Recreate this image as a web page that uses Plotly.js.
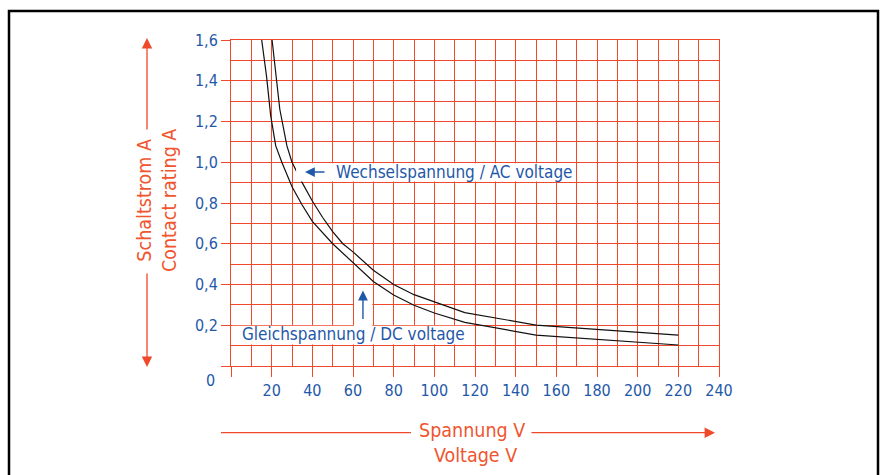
<!DOCTYPE html>
<html>
<head>
<meta charset="utf-8">
<script src="https://cdn.plot.ly/plotly-3.0.1.min.js"></script>
<style>html,body{margin:0;padding:0;background:#fff;}#chart{width:880px;height:475px;}</style>
</head>
<body>
<div id="chart"></div>
<script>
// Data
const acVoltage = [20.2, 22, 24, 27.5, 30, 35, 40, 45, 50, 55, 60, 70, 80, 90, 100, 115, 150, 220];
const acCurrent = [1.6, 1.45, 1.26, 1.08, 1.0, 0.9, 0.81, 0.73, 0.66, 0.6, 0.56, 0.47, 0.40, 0.35, 0.315, 0.262, 0.201, 0.152];
const dcVoltage = [15.1, 17.5, 19.5, 22, 25, 30, 35, 40, 50, 60, 70, 80, 90, 100, 115, 150, 220];
const dcCurrent = [1.6, 1.42, 1.23, 1.08, 1.0, 0.88, 0.79, 0.71, 0.6, 0.505, 0.415, 0.348, 0.298, 0.26, 0.214, 0.152, 0.103];
const xTickVals = [0, 20, 40, 60, 80, 100, 120, 140, 160, 180, 200, 220, 240];
const xTickText = ['', '20', '40', '60', '80', '100', '120', '140', '160', '180', '200', '220', '240'];
const yTickVals = [0, 0.2, 0.4, 0.6, 0.8, 1.0, 1.2, 1.4, 1.6];
const yTickText = ['', '0,2', '0,4', '0,6', '0,8', '1,0', '1,2', '1,4', '1,6'];
const acLabel = 'Wechselspannung / AC voltage';
const dcLabel = 'Gleichspannung / DC voltage';
const yTitle = 'Schaltstrom A<br>Contact rating A';
const xTitle1 = 'Spannung V';
const xTitle2 = 'Voltage V';

const RED = '#f0482a';
const RED_TXT = '#f0552f';
const BLUE = '#1f58a8';
const TICKFONT = {family: '"Liberation Sans Narrow", "DejaVu Sans Condensed", "Liberation Sans", sans-serif', size: 16, color: BLUE};
const LABELFONT = {family: '"DejaVu Sans Condensed", "Open Sans", sans-serif', size: 17, color: BLUE};
const TITLEFONT = {family: '"DejaVu Sans Condensed", "Open Sans", sans-serif', size: 19.5, color: RED_TXT};

// pixel helpers -> paper coords (plot area: x 231..719, y 40..366)
const L = 231, R = 719, T = 40, B = 366;
const px = v => (v - L) / (R - L);
const py = v => (B - v) / (B - T);

const traces = [
  {x: acVoltage, y: acCurrent, type: 'scatter', mode: 'lines', line: {color: '#111', width: 1.2}, hoverinfo: 'skip'},
  {x: dcVoltage, y: dcCurrent, type: 'scatter', mode: 'lines', line: {color: '#111', width: 1.2}, hoverinfo: 'skip'}
];

const layout = {
  width: 880, height: 475,
  margin: {l: L, r: 880 - R, t: T, b: 475 - B, pad: 0},
  paper_bgcolor: '#fff', plot_bgcolor: '#fff',
  showlegend: false,
  xaxis: {
    range: [0, 240], tickmode: 'array', tickvals: xTickVals, ticktext: xTickText,
    showgrid: true, gridcolor: RED, gridwidth: 1,
    ticks: 'outside', ticklen: 10, tickcolor: RED, tickwidth: 1,
    showline: true, mirror: true, linecolor: RED, linewidth: 1,
    zeroline: false, tickfont: TICKFONT, fixedrange: true,
    minor: {tick0: 0, dtick: 10, showgrid: true, gridcolor: RED, gridwidth: 1, ticks: ''}
  },
  yaxis: {
    range: [0, 1.6], tickmode: 'array', tickvals: yTickVals, ticktext: yTickText,
    showgrid: true, gridcolor: RED, gridwidth: 1,
    ticks: 'outside', ticklen: 9, tickcolor: RED, tickwidth: 1,
    showline: true, mirror: true, linecolor: RED, linewidth: 1,
    zeroline: false, tickfont: TICKFONT, fixedrange: true,
    minor: {tick0: 0, dtick: 0.1, showgrid: true, gridcolor: RED, gridwidth: 1, ticks: ''}
  },
  shapes: [
    // white label boxes
    {type: 'rect', xref: 'x', yref: 'y', x0: 32, x1: 169.5, y0: 0.905, y1: 0.995, fillcolor: '#fff', line: {width: 0}, layer: 'above'},
    {type: 'rect', xref: 'x', yref: 'y', x0: 0.7, x1: 119.5, y0: 0.106, y1: 0.197, fillcolor: '#fff', line: {width: 0}, layer: 'above'},
    {type: 'rect', xref: 'x', yref: 'y', x0: 60.5, x1: 69.5, y0: 0.19, y1: 0.39, fillcolor: '#fff', line: {width: 0}, layer: 'above'},
    // frame
    {type: 'rect', xref: 'paper', yref: 'paper', x0: px(9), x1: px(878), y0: py(490), y1: py(11), line: {color: '#000', width: 2.5}, fillcolor: 'rgba(0,0,0,0)', layer: 'above'},
    // x title line (left part)
    {type: 'line', xref: 'paper', yref: 'paper', x0: px(221), x1: px(411), y0: py(432.7), y1: py(432.7), line: {color: RED, width: 1.3}}
  ],
  annotations: [
    {xref: 'paper', yref: 'paper', x: px(210), y: py(380), text: '0', showarrow: false, font: TICKFONT, xanchor: 'center', yanchor: 'middle'},
    // AC label + arrow
    {xref: 'x', yref: 'y', x: 50.5, y: 0.952, text: acLabel, showarrow: false, font: LABELFONT, xanchor: 'left', yanchor: 'middle'},
    {xref: 'x', yref: 'y', x: 36.4, y: 0.952, text: '', showarrow: true, ax: 21, ay: 0, arrowhead: 2, arrowsize: 1.4, arrowwidth: 1.4, arrowcolor: BLUE},
    // DC label + arrow
    {xref: 'x', yref: 'y', x: 4.4, y: 0.155, text: dcLabel, showarrow: false, font: LABELFONT, xanchor: 'left', yanchor: 'middle'},
    {xref: 'x', yref: 'y', x: 64.9, y: 0.37, text: '', showarrow: true, ax: 0, ay: 30, arrowhead: 2, arrowsize: 1.4, arrowwidth: 1.4, arrowcolor: BLUE},
    // y title and arrows
    {xref: 'paper', yref: 'paper', x: px(157), y: py(201), text: yTitle, textangle: -90, showarrow: false, font: TITLEFONT, xanchor: 'center', yanchor: 'middle'},
    {xref: 'paper', yref: 'paper', x: px(147), y: py(38), text: '', showarrow: true, ax: 0, ay: 93, arrowhead: 2, arrowsize: 1.6, arrowwidth: 1.3, arrowcolor: RED},
    {xref: 'paper', yref: 'paper', x: px(147), y: py(367), text: '', showarrow: true, ax: 0, ay: -95, arrowhead: 2, arrowsize: 1.6, arrowwidth: 1.3, arrowcolor: RED},
    // x title and arrow
    {xref: 'paper', yref: 'paper', x: px(472), y: py(430), text: xTitle1, showarrow: false, font: TITLEFONT, xanchor: 'center', yanchor: 'middle'},
    {xref: 'paper', yref: 'paper', x: px(475), y: py(455), text: xTitle2, showarrow: false, font: TITLEFONT, xanchor: 'center', yanchor: 'middle'},
    {xref: 'paper', yref: 'paper', x: px(715), y: py(432.7), text: '', showarrow: true, ax: -185, ay: 0, arrowhead: 2, arrowsize: 1.6, arrowwidth: 1.3, arrowcolor: RED}
  ]
};

Plotly.newPlot('chart', traces, layout, {staticPlot: true, displayModeBar: false});
</script>
</body>
</html>
